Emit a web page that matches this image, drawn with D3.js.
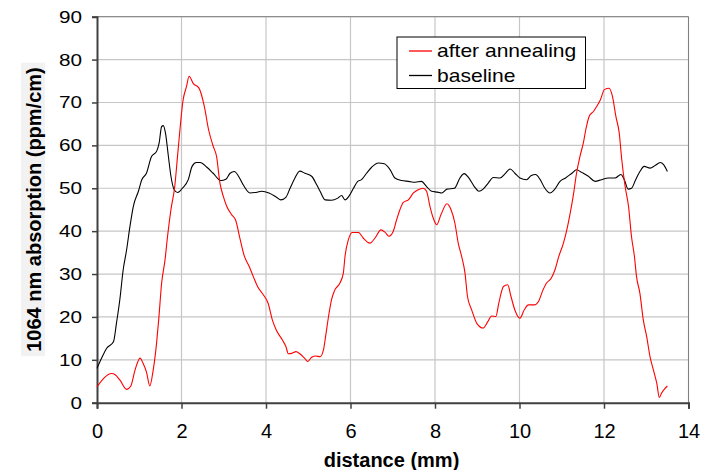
<!DOCTYPE html>
<html>
<head>
<meta charset="utf-8">
<script src="https://cdnjs.cloudflare.com/ajax/libs/d3/7.8.5/d3.min.js"></script>
<style>
  body { margin: 0; background: #fff; }
  text { font-family: "Liberation Sans", Arial, sans-serif; fill: #000; }
</style>
</head>
<body>
<div id="chart"></div>
<script>
////////////////////////////////////////////////////////////
//////////////////////// Data //////////////////////////////
////////////////////////////////////////////////////////////
var seriesNames = ['after annealing', 'baseline'];

// after annealing (red)
var annealDist = [0, 0.35, 0.43, 0.54, 0.70, 0.80, 0.90, 1.02, 1.09, 1.17, 1.25, 1.33, 1.41, 1.46, 1.53, 1.61, 1.67, 1.75, 1.84, 1.92,
  2.04, 2.12, 2.18, 2.28, 2.41, 2.54, 2.64, 2.75, 2.83, 2.91, 2.99, 3.07, 3.19, 3.28, 3.39, 3.49, 3.60, 3.70, 3.80, 3.94,
  4.05, 4.15, 4.24, 4.39, 4.47, 4.53, 4.61, 4.71, 4.80, 4.91, 4.99, 5.08, 5.18, 5.28, 5.36, 5.41, 5.48, 5.55, 5.63, 5.75,
  5.83, 5.87, 5.95, 6.04, 6.19, 6.30, 6.46, 6.58, 6.72, 6.82, 6.91, 7.01, 7.09, 7.17, 7.25, 7.37, 7.49, 7.59, 7.72, 7.80,
  7.88, 7.96, 8.04, 8.14, 8.28, 8.38, 8.47, 8.55, 8.63, 8.71, 8.77, 8.87, 8.99, 9.14, 9.25, 9.34, 9.44, 9.51, 9.62, 9.72,
  9.80, 9.89, 10.01, 10.11, 10.21, 10.35, 10.45, 10.54, 10.64, 10.75, 10.84, 10.93, 11.04, 11.12, 11.20, 11.27, 11.35, 11.43, 11.51, 11.57,
  11.65, 11.75, 11.83, 11.91, 12.01, 12.12, 12.20, 12.28, 12.36, 12.42, 12.50, 12.58, 12.65, 12.72, 12.77, 12.85, 12.93, 13.01, 13.09, 13.17,
  13.25, 13.31, 13.36, 13.44, 13.50];
var annealAbs = [3.7, 6.8, 6.5, 5.3, 3.1, 3.9, 7.6, 10.4, 9.2, 7.2, 3.9, 7.6, 13.9, 19.3, 27.9, 33.3, 38.8, 45.0, 50.4, 59.0,
  70.7, 73.8, 76.1, 74.4, 73.4, 69.1, 63.7, 59.8, 57.4, 51.2, 48.1, 45.8, 43.8, 42.6, 38.0, 34.1, 31.8, 29.4, 27.1, 25.1,
  23.2, 19.3, 17.0, 14.6, 13.1, 11.4, 11.5, 11.9, 11.4, 10.4, 9.6, 10.6, 10.9, 10.7, 12.3, 15.4, 20.1, 24.0, 26.3, 27.9,
  30.2, 34.1, 38.0, 39.7, 39.7, 38.4, 37.2, 38.4, 40.3, 39.7, 38.8, 39.9, 42.6, 45.0, 46.7, 47.3, 48.9, 49.6, 50.0, 49.3,
  45.8, 43.0, 41.5, 43.8, 46.4, 45.0, 41.9, 37.2, 34.1, 30.2, 24.7, 21.6, 18.5, 17.4, 18.9, 20.2, 20.1, 23.2, 27.1, 27.5,
  24.7, 21.6, 19.7, 21.6, 22.8, 22.8, 23.6, 25.9, 27.9, 29.0, 31.0, 34.1, 37.2, 40.3, 44.2, 48.1, 53.5, 57.4, 60.5, 63.7,
  66.8, 67.9, 69.1, 70.5, 73.0, 73.3, 71.4, 66.8, 62.9, 56.7, 50.4, 45.8, 38.8, 34.1, 29.4, 25.5, 19.3, 15.4, 10.7, 7.6,
  4.5, 1.2, 2.2, 3.3, 3.9];

// baseline (black)
var baseDist = [0, 0.11, 0.23, 0.39, 0.46, 0.54, 0.62, 0.70, 0.78, 0.86, 0.98, 1.06, 1.17, 1.29, 1.41, 1.47, 1.53, 1.57, 1.62, 1.69,
  1.75, 1.83, 1.91, 2.02, 2.16, 2.25, 2.35, 2.44, 2.60, 2.75, 2.93, 3.05, 3.15, 3.25, 3.35, 3.46, 3.62, 3.74, 3.90, 4.07,
  4.25, 4.35, 4.47, 4.57, 4.67, 4.80, 4.92, 5.08, 5.20, 5.28, 5.40, 5.55, 5.70, 5.79, 5.87, 5.96, 6.07, 6.17, 6.26, 6.38,
  6.50, 6.66, 6.80, 6.94, 7.05, 7.21, 7.37, 7.53, 7.68, 7.80, 7.92, 8.06, 8.16, 8.28, 8.46, 8.59, 8.69, 8.80, 8.93, 9.04,
  9.14, 9.26, 9.38, 9.54, 9.66, 9.78, 9.89, 10.01, 10.17, 10.27, 10.38, 10.49, 10.60, 10.72, 10.82, 10.96, 11.09, 11.24, 11.35, 11.47,
  11.63, 11.79, 11.94, 12.10, 12.26, 12.40, 12.48, 12.57, 12.65, 12.75, 12.85, 12.95, 13.09, 13.21, 13.33, 13.41, 13.50];
var baseAbs = [8.0, 10.4, 12.7, 14.2, 18.5, 24.0, 31.0, 35.6, 41.1, 45.8, 49.3, 52.0, 53.5, 57.4, 58.6, 60.5, 64.4, 64.6, 62.9, 57.4,
  52.8, 49.6, 49.0, 50.0, 52.0, 55.1, 56.0, 56.0, 54.9, 53.5, 51.8, 52.1, 53.5, 53.9, 52.8, 50.8, 48.9, 49.0, 49.3, 48.9,
  47.9, 47.3, 47.9, 50.0, 52.1, 54.0, 53.5, 52.8, 50.8, 49.3, 47.3, 47.2, 47.7, 48.3, 47.3, 48.1, 50.0, 51.6, 52.0, 53.5,
  54.9, 55.9, 55.7, 54.3, 52.4, 51.8, 51.6, 51.4, 51.6, 50.4, 49.3, 49.1, 48.9, 49.8, 50.0, 52.4, 53.4, 52.4, 50.4, 49.3,
  49.8, 51.2, 52.5, 52.4, 53.4, 54.5, 53.5, 52.4, 52.0, 52.9, 53.2, 52.0, 50.0, 48.9, 49.6, 51.6, 52.4, 53.5, 54.3, 53.7,
  52.8, 51.6, 52.0, 52.4, 52.4, 53.2, 52.0, 49.8, 50.0, 52.0, 53.9, 55.1, 54.7, 55.3, 56.0, 55.5, 53.9];

var xTicks = [0, 2, 4, 6, 8, 10, 12, 14];
var yTicks = [0, 10, 20, 30, 40, 50, 60, 70, 80, 90];

////////////////////////////////////////////////////////////
//////////////////////// Set-Up ////////////////////////////
////////////////////////////////////////////////////////////
var width = 709, height = 470;
var plot = {left: 97, right: 688.5, top: 16.7, bottom: 402.7};
var colors = ['#ff0000', '#000000'];

var svg = d3.select('#chart').append('svg')
            .attr('width', width)
            .attr('height', height);

var x = d3.scaleLinear().domain([0, 14]).range([plot.left, plot.right]);
var y = d3.scaleLinear().domain([0, 90]).range([plot.bottom, plot.top]);

// Grid
var grid = svg.append('g').attr('class', 'grid');
grid.selectAll('line.h')
    .data(yTicks.slice(1))
    .enter().append('line')
      .attr('x1', plot.left).attr('x2', plot.right)
      .attr('y1', function(d) { return y(d); })
      .attr('y2', function(d) { return y(d); })
      .style('stroke', '#c6c6c6').style('stroke-width', 1.2);
grid.selectAll('line.v')
    .data(xTicks.slice(1))
    .enter().append('line')
      .attr('y1', plot.top).attr('y2', plot.bottom)
      .attr('x1', function(d) { return x(d); })
      .attr('x2', function(d) { return x(d); })
      .style('stroke', '#c6c6c6').style('stroke-width', 1.2);

// Plot frame (top + right in grey)
svg.append('path')
   .attr('d', 'M' + plot.left + ',' + plot.top + 'H' + plot.right + 'V' + plot.bottom)
   .style('fill', 'none').style('stroke', '#808080').style('stroke-width', 1);

// Axes
var xAxis = svg.append('g')
               .attr('transform', 'translate(0,' + plot.bottom + ')')
               .call(d3.axisBottom(x).tickValues(xTicks).tickSize(6).tickPadding(15).tickFormat(d3.format('d')));
xAxis.selectAll('text').style('font-size', '20px').attr('dy', '0.71em');

var yAxis = svg.append('g')
               .attr('transform', 'translate(' + plot.left + ',0)')
               .call(d3.axisLeft(y).tickValues(yTicks).tickSize(5).tickFormat(d3.format('d')));
// y labels look horizontally stretched in the original
yAxis.selectAll('text')
     .attr('x', 0)
     .attr('transform', 'translate(-15,0) scale(1.22,1)')
     .style('font-size', '17px');

svg.selectAll('.domain').style('stroke', '#404040').style('stroke-width', 2);
svg.selectAll('.tick line').style('stroke', '#404040').style('stroke-width', 1.5);

////////////////////////////////////////////////////////////
//////////////////////// Lines /////////////////////////////
////////////////////////////////////////////////////////////
var line = d3.line()
             .curve(d3.curveMonotoneX)
             .x(function(d) { return x(d[0]); })
             .y(function(d) { return y(d[1]); });

var series = [d3.zip(annealDist, annealAbs), d3.zip(baseDist, baseAbs)];

// baseline drawn first so red sits on top
svg.append('path').datum(series[1])
   .attr('d', line)
   .style('fill', 'none').style('stroke', colors[1]).style('stroke-width', 1.1);
svg.append('path').datum(series[0])
   .attr('d', line)
   .style('fill', 'none').style('stroke', colors[0]).style('stroke-width', 1.1);

////////////////////////////////////////////////////////////
//////////////////////// Legend ////////////////////////////
////////////////////////////////////////////////////////////
var legend = svg.append('g').attr('transform', 'translate(397,37)');
legend.append('rect')
      .attr('width', 188.5).attr('height', 51.5)
      .style('fill', '#fff').style('stroke', '#000').style('stroke-width', 1);

var rows = legend.selectAll('g.row')
                 .data(seriesNames)
                 .enter().append('g')
                   .attr('class', 'row')
                   .attr('transform', function(d, i) { return 'translate(0,' + (14 + i * 24.5) + ')'; });
rows.append('line')
    .attr('x1', 12).attr('x2', 35)
    .style('stroke', function(d, i) { return colors[i]; })
    .style('stroke-width', 1.3);
rows.append('text')
    .text(function(d) { return d; })
    .attr('transform', 'translate(40,0) scale(1.17,1)')
    .attr('dy', '0.34em')
    .style('font-size', '18px');

////////////////////////////////////////////////////////////
//////////////////////// Titles ////////////////////////////
////////////////////////////////////////////////////////////
svg.append('text')
   .text('distance (mm)')
   .attr('x', 391.5).attr('y', 467)
   .attr('text-anchor', 'middle')
   .style('font-size', '20px').style('font-weight', 'bold');

svg.append('rect')
   .attr('x', 21).attr('y', 62.7).attr('width', 24).attr('height', 293.5)
   .style('fill', '#f2f2f2');
svg.append('text')
   .text('1064 nm absorption (ppm/cm)')
   .attr('transform', 'translate(40.5,209.5) rotate(-90)')
   .attr('text-anchor', 'middle')
   .style('font-size', '20px').style('font-weight', 'bold');
</script>
</body>
</html>
